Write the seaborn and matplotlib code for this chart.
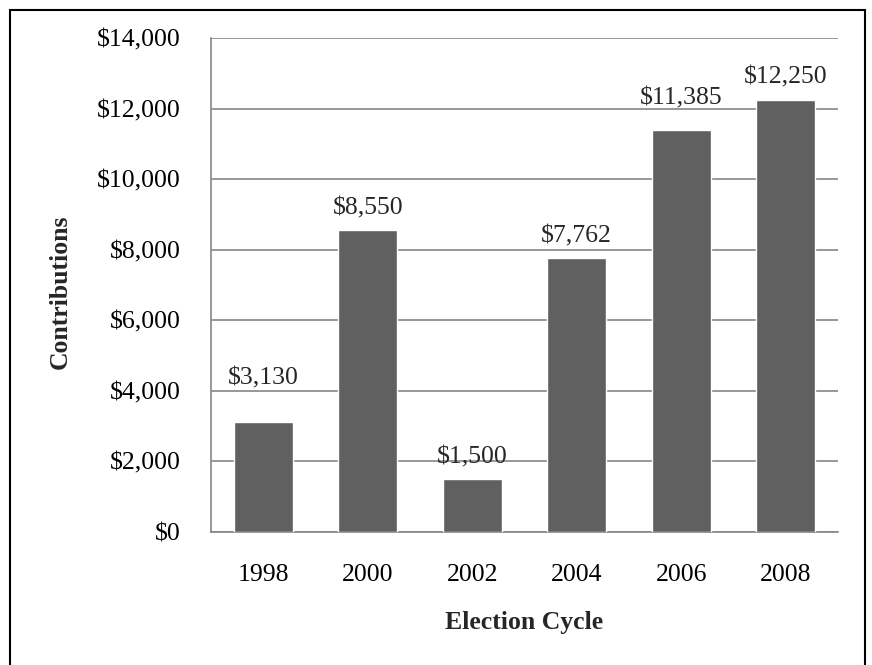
import matplotlib
matplotlib.use("Agg")
import matplotlib.pyplot as plt
import matplotlib.patches as mpatches
from matplotlib.ticker import FuncFormatter, MultipleLocator
import seaborn as sns
import pandas as pd

cycles = ["1998", "2000", "2002", "2004", "2006", "2008"]
contributions = [3130, 8550, 1500, 7762, 11385, 12250]

sns.set_theme(style="white")
plt.rcParams["font.family"] = ["Liberation Serif", "DejaVu Serif"]

df = pd.DataFrame({"cycle": cycles, "amount": contributions})

fig = plt.figure(figsize=(8.72, 6.65), dpi=100)
left_px, right_px, top_px, bottom_px = 211, 838, 38, 532
ax = fig.add_axes([left_px / 872, 1 - bottom_px / 665,
                   (right_px - left_px) / 872, (bottom_px - top_px) / 665])

sns.barplot(data=df, x="cycle", y="amount", color="#606060", width=0.565,
            saturation=1, ax=ax, zorder=3)

ax.set_ylim(0, 14000)
ax.yaxis.set_major_locator(MultipleLocator(2000))
ax.yaxis.set_major_formatter(FuncFormatter(lambda v, p: f"${v:,.0f}"))
ax.grid(axis="y", color="#868686", linewidth=1.2, zorder=0)
ax.set_axisbelow(True)

for side in ("top", "right"):
    ax.spines[side].set_visible(False)
for side in ("left", "bottom"):
    ax.spines[side].set_color("#868686")
    ax.spines[side].set_linewidth(1.2)

ax.tick_params(axis="both", length=0, labelsize=18.5, colors="black")
ax.tick_params(axis="y", pad=22)
ax.tick_params(axis="x", pad=23)

# value labels; labels that would sit on a gridline are lifted clear of it
label_offsets = [23, 8, 8, 8, 15, 8]
for i, v in enumerate(contributions):
    ax.annotate(f"${v:,.0f}", (i, v), xytext=(0, label_offsets[i]), textcoords="offset points",
                ha="center", va="bottom", fontsize=18.5)

ax.set_xlabel("Election Cycle", fontsize=18.5, fontweight="bold", labelpad=18)
ax.set_ylabel("Contributions", fontsize=18.5, fontweight="bold")
ax.yaxis.set_label_coords(-(left_px - 72) / (right_px - left_px),
                          (bottom_px - 292) / (bottom_px - top_px))

# outer frame around the figure
fig.patches.append(mpatches.Rectangle((10 / 872, -0.02), (865 - 10) / 872, 1.02 - 10 / 665,
                                      transform=fig.transFigure, fill=False,
                                      edgecolor="black", linewidth=1.5))

fig.savefig("out.png", dpi=100)
